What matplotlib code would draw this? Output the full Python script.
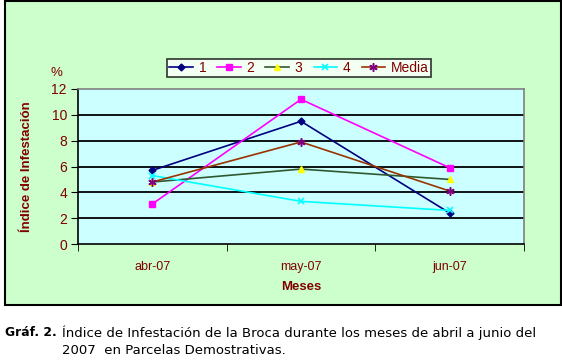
import matplotlib
matplotlib.use("Agg")
import matplotlib.pyplot as plt
from matplotlib.patches import Rectangle

# Data
meses = ["abr-07", "may-07", "jun-07"]
serie_1 = [5.7, 9.5, 2.4]
serie_2 = [3.1, 11.2, 5.9]
serie_3 = [4.8, 5.8, 5.0]
serie_4 = [5.3, 3.3, 2.6]
media = [4.8, 7.9, 4.1]
y_ticks = [0, 2, 4, 6, 8, 10, 12]

W, H = 562, 363
dark_red = "#800000"
plt.rcParams["font.family"] = ["Liberation Sans", "DejaVu Sans"]

fig = plt.figure(figsize=(W / 100, H / 100), dpi=100)
fig.patch.set_facecolor("white")

# green chart area with black border
fig.patches.append(Rectangle((5 / W, 1 - 305 / H), 556 / W, 304 / H,
                             transform=fig.transFigure, facecolor="#CCFFCC",
                             edgecolor="black", linewidth=1.5, zorder=-10))

ax = fig.add_axes([78 / W, 1 - 244 / H, 446 / W, 155 / H])
ax.set_facecolor("#CCFFFF")
x = range(len(meses))

ax.plot(x, serie_1, color="#000080", marker="D", markersize=3.5, lw=1.2, label="1", zorder=3)
ax.plot(x, serie_2, color="#FF00FF", marker="s", markersize=5, lw=1.2, label="2", zorder=3)
ax.plot(x, serie_3, color="#305830", marker="^", markersize=5, lw=1.2,
        markerfacecolor="#FFFF00", markeredgecolor="#FFFF00", label="3", zorder=3)
ax.plot(x, serie_4, color="#00FFFF", marker="x", markersize=5, lw=1.2,
        markeredgewidth=1.2, label="4", zorder=3)
ax.plot(x, media, color="#993300", marker=(6, 2, 0), markersize=6, lw=1.2,
        markeredgecolor="#800080", markeredgewidth=1.1, label="Media", zorder=3)

ax.set_xlim(-0.5, 2.5)
ax.set_ylim(0, 12)
ax.set_yticks(y_ticks)
for v in y_ticks[1:-1]:
    ax.axhline(v, color="black", lw=1.3, zorder=1)

ax.set_xticks(list(x))
ax.set_xticklabels(meses)
ax.set_xticks([-0.5, 0.5, 1.5, 2.5], minor=True)
ax.tick_params(axis="x", which="major", length=0, pad=12, labelsize=9,
               labelcolor=dark_red)
ax.tick_params(axis="x", which="minor", length=5, color="black")
ax.tick_params(axis="y", length=5, labelsize=10, labelcolor=dark_red, pad=3)

ax.spines["left"].set_color("black")
ax.spines["bottom"].set_color("black")
ax.spines["top"].set_color("#808080")
ax.spines["right"].set_color("#808080")
for s in ax.spines.values():
    s.set_linewidth(1.2)

ax.set_xlabel("Meses", fontsize=9.5, fontweight="bold", color=dark_red, labelpad=6)
fig.text(27 / W, 1 - 167 / H, "Índice de Infestación", rotation=90,
         fontsize=9.5, fontweight="bold", color=dark_red, ha="center", va="center")
fig.text(56 / W, 1 - 73 / H, "%", fontsize=9.5, color=dark_red,
         ha="center", va="center")

leg = fig.legend(loc="center", bbox_to_anchor=(299 / W, 1 - 68 / H), ncol=5,
                 fontsize=10, frameon=True, fancybox=False, edgecolor="black",
                 handlelength=1.7, columnspacing=0.8, handletextpad=0.4,
                 borderpad=0.15, borderaxespad=0, labelcolor=dark_red)
leg.get_frame().set_linewidth(1.2)

# caption
fig.text(5 / W, 1 - 333 / H, "Gráf. 2.", fontsize=8.8, fontweight="bold",
         family="DejaVu Sans", color="black", va="center")
fig.text(62 / W, 1 - 333 / H,
         "Índice de Infestación de la Broca durante los meses de abril a junio del",
         fontsize=9.5, family="DejaVu Sans", color="black", va="center")
fig.text(62 / W, 1 - 350 / H, "2007  en Parcelas Demostrativas.",
         fontsize=9.5, family="DejaVu Sans", color="black", va="center")

fig.savefig("out.png", dpi=100)
